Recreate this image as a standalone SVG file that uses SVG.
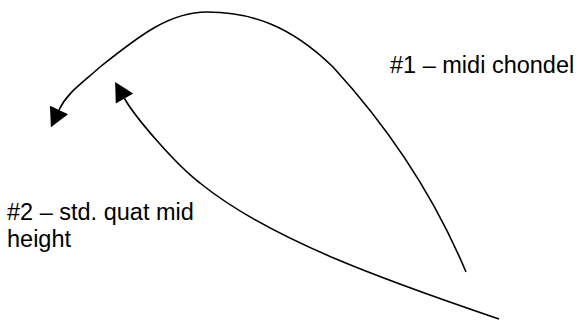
<svg xmlns="http://www.w3.org/2000/svg" width="579" height="320" viewBox="0 0 579 320">
  <defs>
    <marker id="tri" markerUnits="userSpaceOnUse" markerWidth="20" markerHeight="22" viewBox="0 -11 20 22" refX="0" refY="0" orient="auto" overflow="visible">
      <path d="M0,-10 L19,0 L0,10 Z" fill="#000"/>
    </marker>
    <style>
      .conn { fill: none; stroke: #000; stroke-width: 1.6; marker-end: url(#tri); }
      .lbl { font-family: "Liberation Sans", Arial, sans-serif; font-size: 23.5px; fill: #000; }
    </style>
  </defs>
  <rect width="579" height="320" fill="#fff"/>
  <g id="connectors">
    <path id="c1" class="conn" d="M466,272 C440,210 400,140 333,67 C290,25 250,12 207,12 C170,12 140,35 100,67 C80,85 67,93 59,110"/>
    <path id="c2" class="conn" d="M499,319 C390,282 270,240 200,183 C175,164 135,117 124.5,98.5"/>
  </g>
  <g id="label1">
    <text class="lbl" x="390" y="73">#1 – midi chondel</text>
  </g>
  <g id="label2">
    <text class="lbl" x="7" y="220">#2 – std. quat mid</text>
    <text class="lbl" x="7" y="247">height</text>
  </g>
</svg>
